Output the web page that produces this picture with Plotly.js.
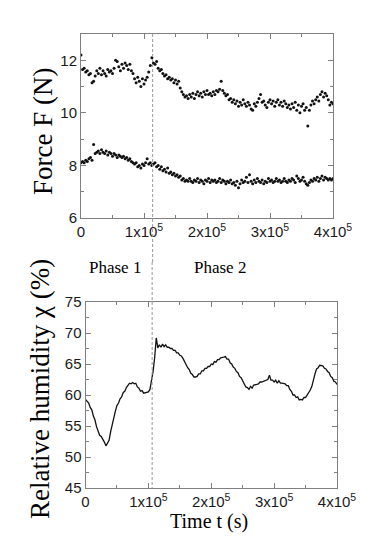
<!DOCTYPE html>
<html>
<head>
<meta charset="utf-8">
<script src="https://cdn.plot.ly/plotly-3.0.1.min.js"></script>
<style>
  html, body { margin: 0; padding: 0; background: #fff; }
  #chart { width: 382px; height: 540px; }
</style>
</head>
<body>
<div id="chart"></div>
<script>
const timeStep = 2500;

// upper force curve (N), t = 0 .. 4e5 s
const forceHigh = [
  12.2, 11.65, 11.7, 11.55, 11.6, 11.45, 11.5, 11.15, 11.2, 11.4,
  11.6, 11.5, 11.7, 11.45, 11.6, 11.5, 11.4, 11.65, 11.55, 11.6,
  11.5, 11.7, 12.0, 11.95, 11.75, 11.6, 11.85, 11.7, 11.9, 11.8,
  11.65, 11.85, 11.6, 11.5, 11.3, 11.15, 11.35, 11.2, 11.0, 11.3,
  11.1, 11.25, 11.35, 11.55, 11.8, 12.1, 11.9, 11.85, 11.95, 11.7,
  11.6, 11.65, 11.5, 11.4, 11.45, 11.3, 11.35, 11.25, 11.3, 11.15,
  11.25, 11.1, 11.2, 10.95, 10.8, 10.7, 10.6, 10.65, 10.55, 10.7,
  10.6, 10.75, 10.55, 10.7, 10.8, 10.65, 10.75, 10.6, 10.8, 10.7,
  10.85, 10.7, 10.75, 10.65, 10.8, 10.7, 10.85, 10.8, 10.9, 11.2,
  10.85, 10.75, 10.65, 10.7, 10.5, 10.55, 10.4, 10.5, 10.35, 10.45,
  10.25, 10.4, 10.3, 10.5, 10.35, 10.25, 10.4, 10.3, 10.15, 10.1,
  10.35, 10.25, 10.4, 10.55, 10.7, 10.4, 10.45, 10.3, 10.2, 10.4,
  10.5, 10.35, 10.45, 10.25, 10.4, 10.5, 10.3, 10.4, 10.25, 10.45,
  10.35, 10.2, 10.3, 10.15, 10.35, 10.2, 10.4, 10.1, 10.3, 10.0,
  10.25, 10.35, 10.1, 10.2, 9.5, 10.1, 10.3, 10.45, 10.35, 10.5,
  10.6, 10.45, 10.7, 10.8, 10.6, 10.75, 10.65, 10.5, 10.3, 10.4,
  10.35
];

// lower force curve (N)
const forceLow = [
  8.1, 8.15, 8.1, 8.2, 8.15, 8.25, 8.3, 8.2, 8.8, 8.45,
  8.5, 8.55, 8.45, 8.6, 8.5, 8.45, 8.55, 8.4, 8.5, 8.45,
  8.35, 8.45, 8.4, 8.3, 8.4, 8.35, 8.3, 8.35, 8.25, 8.3,
  8.2, 8.25, 8.15, 8.1, 8.05, 8.1, 7.95, 8.0, 7.9, 8.05,
  8.0, 8.1, 8.25, 8.05, 8.1, 8.0, 8.05, 8.1, 7.95, 8.0,
  7.85, 7.95, 7.8, 7.85, 7.75, 7.9, 7.7, 7.75, 7.65, 7.7,
  7.6, 7.65, 7.55, 7.6, 7.45, 7.5, 7.4, 7.45, 7.4, 7.5,
  7.4, 7.35, 7.45, 7.4, 7.5, 7.35, 7.45, 7.4, 7.3, 7.45,
  7.4, 7.5, 7.35, 7.45, 7.4, 7.45, 7.35, 7.4, 7.5, 7.35,
  7.45, 7.4, 7.3, 7.4, 7.35, 7.45, 7.3, 7.35, 7.25, 7.4,
  7.15, 7.3, 7.45, 7.35, 7.4, 7.55, 7.35, 7.65, 7.4, 7.3,
  7.45, 7.35, 7.5, 7.4, 7.35, 7.45, 7.3, 7.4, 7.35, 7.5,
  7.4, 7.45, 7.35, 7.4, 7.5, 7.4, 7.45, 7.35, 7.4, 7.5,
  7.4, 7.35, 7.45, 7.4, 7.5, 7.45, 7.35, 7.6, 7.5, 7.4,
  7.45, 7.55, 7.4, 7.3, 7.25, 7.35, 7.45, 7.4, 7.5, 7.45,
  7.55, 7.4, 7.5, 7.6, 7.45, 7.55, 7.5, 7.45, 7.5, 7.45,
  7.5
];

// relative humidity (%)
const humidity = [
  59.3, 58.9, 58.7, 58.0, 57.6, 56.6, 56.0, 54.9, 54.2, 53.5,
  53.3, 52.9, 52.4, 51.8, 52.2, 52.7, 54.1, 55.3, 56.7, 57.4,
  58.3, 58.7, 59.4, 59.7, 60.4, 60.6, 61.2, 61.5, 61.9, 61.8,
  62.0, 61.8, 61.9, 61.3, 61.1, 60.6, 60.7, 60.3, 60.4, 60.4,
  60.5, 60.9, 62.2, 63.8, 66.0, 69.2, 67.6, 68.1, 67.7, 68.2,
  67.8, 68.1, 67.7, 67.7, 67.5, 67.5, 67.2, 67.2, 66.8, 66.8,
  66.4, 66.3, 65.9, 65.3, 65.0, 64.4, 64.1, 63.5, 63.3, 62.9,
  62.9, 63.0, 63.4, 63.4, 63.9, 63.9, 64.3, 64.3, 64.6, 64.6,
  65.0, 64.9, 65.4, 65.3, 65.7, 65.7, 66.0, 66.0, 66.1, 66.2,
  65.8, 65.8, 65.2, 65.0, 64.5, 64.3, 63.8, 63.6, 63.0, 62.8,
  62.2, 61.9, 61.3, 61.2, 60.9, 61.4, 61.1, 61.6, 61.6, 61.7,
  61.8, 62.1, 62.1, 62.2, 62.3, 62.4, 62.5, 63.2, 62.4, 62.4,
  62.1, 62.4, 61.9, 62.3, 61.9, 61.9, 61.8, 61.8, 61.5, 61.5,
  60.9, 60.6, 60.0, 60.0, 59.6, 59.7, 59.2, 59.3, 59.2, 59.6,
  59.6, 60.0, 60.2, 60.8, 61.4, 62.7, 63.4, 64.2, 64.4, 64.8,
  64.8, 64.7, 64.3, 64.2, 63.8, 63.6, 63.0, 62.8, 62.2, 62.1,
  61.7
];

// time axis ticks
const timeTicks = [0, 1e5, 2e5, 3e5, 4e5];
const timeTickText = ["0", "1x10<sup>5</sup>", "2x10<sup>5</sup>", "3x10<sup>5</sup>", "4x10<sup>5</sup>"];

// phase 1 / phase 2 boundary as it falls on each panel's own axis
const phaseBoundaryTop = 1.137e5;
const phaseBoundaryBottom = 1.06e5;

const W = 382, H = 540;
const px = v => v / W;
const py = v => 1 - v / H;

const dotStyle = { size: 3, color: "#111", symbol: "circle" };

const traces = [
  { x0: 0, dx: timeStep, y: forceHigh, type: "scatter", mode: "markers",
    marker: dotStyle, xaxis: "x", yaxis: "y", hoverinfo: "skip" },
  { x0: 0, dx: timeStep, y: forceLow, type: "scatter", mode: "markers",
    marker: dotStyle, xaxis: "x", yaxis: "y", hoverinfo: "skip" },
  { x0: 0, dx: timeStep, y: humidity, type: "scatter", mode: "lines",
    line: { color: "#111", width: 1.3 }, xaxis: "x2", yaxis: "y2", hoverinfo: "skip" }
];

const frame = {
  showline: true, linecolor: "#808080", linewidth: 1, mirror: "allticks",
  ticks: "inside", ticklen: 5, tickcolor: "#808080", tickwidth: 1,
  showgrid: false, zeroline: false,
  tickfont: { family: "Liberation Sans, Arial, sans-serif", size: 15, color: "#1a1a1a" }
};

const serif = "Liberation Serif, Times New Roman, serif";

function label(text, x, y, size, angle) {
  return { text: text, xref: "paper", yref: "paper", x: px(x), y: py(y),
    xanchor: "center", yanchor: "middle", textangle: angle || 0, showarrow: false,
    font: { family: serif, size: size, color: "#000" } };
}

const layout = {
  width: W, height: H,
  margin: { l: 0, r: 0, t: 0, b: 0 },
  paper_bgcolor: "#fff", plot_bgcolor: "#fff",
  showlegend: false,
  xaxis: Object.assign({}, frame, {
    domain: [px(81), px(333)], range: [0, 4e5], anchor: "y",
    tickmode: "array", tickvals: timeTicks, ticktext: timeTickText,
    minor: { ticks: "inside", ticklen: 3, tickcolor: "#808080", dtick: 5e4 }
  }),
  yaxis: Object.assign({}, frame, {
    domain: [py(218), py(34)], range: [6, 13], anchor: "x",
    dtick: 2, tick0: 6,
    minor: { ticks: "inside", ticklen: 3, tickcolor: "#808080", dtick: 1 }
  }),
  xaxis2: Object.assign({}, frame, {
    domain: [px(85.5), px(337)], range: [0, 4e5], anchor: "y2",
    tickmode: "array", tickvals: timeTicks, ticktext: timeTickText,
    minor: { ticks: "inside", ticklen: 3, tickcolor: "#808080", dtick: 5e4 }
  }),
  yaxis2: Object.assign({}, frame, {
    domain: [py(488), py(302)], range: [45, 75], anchor: "x2",
    dtick: 5, tick0: 45,
    minor: { ticks: "inside", ticklen: 3, tickcolor: "#808080", dtick: 2.5 }
  }),
  shapes: [
    { type: "line", xref: "x", yref: "paper", x0: phaseBoundaryTop, x1: phaseBoundaryTop,
      y0: py(34), y1: py(262), line: { color: "#999", width: 1, dash: "3px,2px" } },
    { type: "line", xref: "x2", yref: "paper", x0: phaseBoundaryBottom, x1: phaseBoundaryBottom,
      y0: py(262), y1: py(488), line: { color: "#999", width: 1, dash: "3px,2px" } }
  ],
  annotations: [
    label("Force F (N)", 43, 132, 27, -90),
    label("Relative humidity χ (%)", 40, 389, 27, -90),
    label("Phase 1", 115, 268, 17),
    label("Phase 2", 220, 268, 17),
    label("Time t (s)", 209, 521, 20)
  ]
};

Plotly.newPlot("chart", traces, layout, { staticPlot: true, displayModeBar: false });
</script>
</body>
</html>
